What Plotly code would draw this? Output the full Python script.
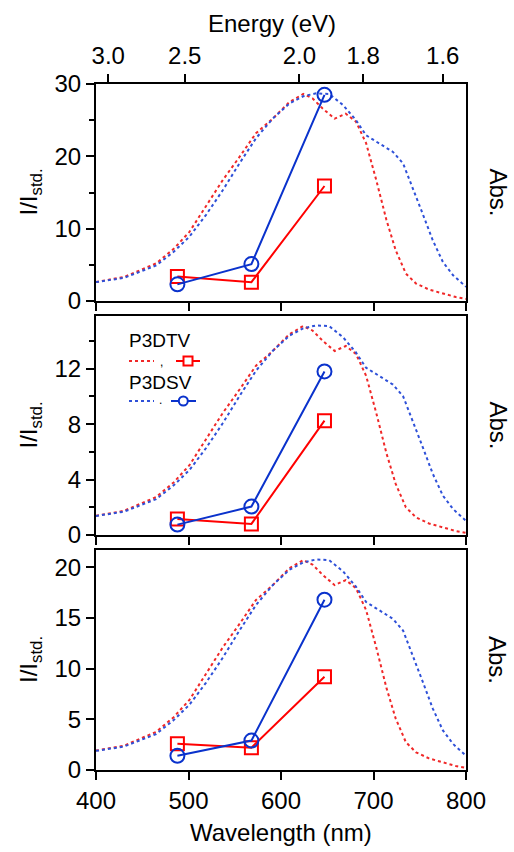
import plotly.graph_objects as go

# ---------------- data ----------------
laser_wl = [488, 568, 647]

p3dtv_top = [3.4, 2.6, 15.9]
p3dsv_top = [2.3, 5.1, 28.5]
p3dtv_mid = [1.15, 0.8, 8.25]
p3dsv_mid = [0.75, 2.05, 11.8]
p3dtv_bot = [2.6, 2.2, 9.2]
p3dsv_bot = [1.4, 2.9, 16.8]

red_wl = [400, 430, 465, 484, 501, 519, 537, 555, 573, 591, 609, 624, 634, 645,
          658, 670, 681, 692, 703, 714, 724, 735, 746, 760, 775, 789, 800]
red_abs = [0.092, 0.115, 0.181, 0.251, 0.333, 0.460, 0.582, 0.693, 0.808, 0.878,
           0.958, 0.997, 0.976, 0.927, 0.878, 0.902, 0.864, 0.760, 0.582, 0.390,
           0.244, 0.132, 0.084, 0.055, 0.035, 0.019, 0.010]

blue_wl = [400, 430, 465, 484, 501, 519, 537, 555, 573, 591, 609, 624, 638, 652,
           667, 681, 692, 706, 721, 732, 742, 753, 764, 775, 786, 800]
blue_abs = [0.091, 0.111, 0.171, 0.237, 0.310, 0.415, 0.533, 0.662, 0.784, 0.878,
            0.951, 0.986, 1.000, 0.997, 0.944, 0.871, 0.798, 0.760, 0.718, 0.662,
            0.551, 0.422, 0.293, 0.188, 0.124, 0.068]

wl_ticks = [400, 500, 600, 700, 800]
energy_ticks = [3.0, 2.5, 2.0, 1.8, 1.6]
energy_labels = ["3.0", "2.5", "2.0", "1.8", "1.6"]

panel_ranges = [[0, 30], [0, 15.8], [0, 21.7]]
panel_dtick = [10, 4, 5]
panel_minor = [5, 2, None]
abs_range = [0, 1.045]

RED = "#FF0000"
BLUE = "#0A32CC"
RED_SPEC = "#F02828"
BLUE_SPEC = "#2E50D8"
FONT = "Liberation Sans, Arial, sans-serif"

# ---------------- geometry ----------------
W, H = 514, 852
L, R, T, B = 96, 48, 84, 82


def py(p):
    return (H - B - p) / (H - T - B)


def px(p):
    return (p - L) / (W - L - R)


domains = [[py(301), 1.0], [py(535), py(316)], [0.0, py(550)]]

fig = go.Figure()

series = [(p3dtv_top, p3dsv_top), (p3dtv_mid, p3dsv_mid), (p3dtv_bot, p3dsv_bot)]
for i in range(3):
    xa = "x" if i == 0 else f"x{i + 1}"
    ya_base = "y" if i == 0 else f"y{i + 1}"
    ya_over = f"y{i + 4}"
    fig.add_trace(go.Scatter(x=red_wl, y=red_abs, xaxis=xa, yaxis=ya_base, mode="lines",
                             line=dict(color=RED_SPEC, width=2, dash="dot"), showlegend=False))
    fig.add_trace(go.Scatter(x=blue_wl, y=blue_abs, xaxis=xa, yaxis=ya_base, mode="lines",
                             line=dict(color=BLUE_SPEC, width=2, dash="dot"), showlegend=False))
    tv, sv = series[i]
    fig.add_trace(go.Scatter(x=laser_wl, y=tv, xaxis=xa, yaxis=ya_over, mode="lines+markers",
                             line=dict(color=RED, width=2),
                             marker=dict(symbol="square-open", size=13, color=RED,
                                         line=dict(width=2, color=RED)),
                             showlegend=False))
    fig.add_trace(go.Scatter(x=laser_wl, y=sv, xaxis=xa, yaxis=ya_over, mode="lines+markers",
                             line=dict(color=BLUE, width=2),
                             marker=dict(symbol="circle-open", size=14, color=BLUE,
                                         line=dict(width=2, color=BLUE)),
                             showlegend=False))

# dummy trace to activate the top energy axis
fig.add_trace(go.Scatter(x=[None], y=[None], xaxis="x4", yaxis="y", showlegend=False,
                         hoverinfo="skip"))

common = dict(showline=True, linewidth=2, linecolor="black", ticks="outside",
              tickwidth=2, tickcolor="black", ticklen=8, showgrid=False,
              zeroline=False, tickfont=dict(size=24, color="black", family=FONT))

layout = dict(
    width=W, height=H,
    margin=dict(l=L, r=R, t=T, b=B),
    paper_bgcolor="white", plot_bgcolor="white",
    font=dict(family=FONT, color="black", size=24),
    showlegend=False,
)

for i in range(3):
    xk = "xaxis" if i == 0 else f"xaxis{i + 1}"
    yk = "yaxis" if i == 0 else f"yaxis{i + 1}"
    yok = f"yaxis{i + 4}"
    xa = "x" if i == 0 else f"x{i + 1}"
    ya_base = "y" if i == 0 else f"y{i + 1}"
    layout[xk] = dict(common, domain=[0, 1], range=[400, 800], anchor=ya_base,
                      tickmode="array", tickvals=wl_ticks, mirror=True,
                      showticklabels=(i == 2))
    layout[yk] = dict(domain=domains[i], range=abs_range, anchor=xa, showline=True,
                      linewidth=2, linecolor="black", mirror=True, ticks="",
                      showticklabels=False, showgrid=False, zeroline=False)
    yo = dict(common, overlaying=ya_base, side="left", anchor=xa,
              range=panel_ranges[i], dtick=panel_dtick[i], tick0=0)
    if panel_minor[i]:
        yo["minor"] = dict(ticks="outside", ticklen=5, tickwidth=2, tickcolor="black",
                           dtick=panel_minor[i], tick0=0, showgrid=False)
    layout[yok] = yo

layout["xaxis4"] = dict(common, overlaying="x", side="top", anchor="y", range=[400, 800],
                        tickmode="array", tickvals=[1239.84 / e for e in energy_ticks],
                        ticktext=energy_labels)

annotations = []
for i in range(3):
    ymid = (domains[i][0] + domains[i][1]) / 2
    annotations.append(dict(text="I/I<sub>std.</sub>", x=px(30), y=ymid, xref="paper",
                            yref="paper", textangle=-90, showarrow=False,
                            font=dict(size=24, family=FONT, color="black"),
                            xanchor="center", yanchor="middle"))
    annotations.append(dict(text="Abs.", x=px(498), y=ymid, xref="paper", yref="paper",
                            textangle=90, showarrow=False,
                            font=dict(size=24, family=FONT, color="black"),
                            xanchor="center", yanchor="middle"))
annotations.append(dict(text="Energy (eV)", x=px(272), y=py(24), xref="paper", yref="paper",
                        showarrow=False, font=dict(size=24, family=FONT, color="black"),
                        xanchor="center", yanchor="middle"))
annotations.append(dict(text="Wavelength (nm)", x=px(281), y=py(832), xref="paper",
                        yref="paper", showarrow=False,
                        font=dict(size=24, family=FONT, color="black"),
                        xanchor="center", yanchor="middle"))

# legend (Igor-style) inside middle panel
leg_font = dict(size=19, family=FONT, color="black")
punct_font = dict(size=12, family=FONT, color="black")
annotations += [
    dict(text="P3DTV", x=px(127), y=py(340), xref="paper", yref="paper", showarrow=False,
         xanchor="left", yanchor="middle", font=leg_font),
    dict(text=",", x=px(161), y=py(362), xref="paper", yref="paper", showarrow=False,
         xanchor="center", yanchor="middle", font=punct_font),
    dict(text="P3DSV", x=px(127), y=py(382), xref="paper", yref="paper", showarrow=False,
         xanchor="left", yanchor="middle", font=leg_font),
    dict(text=".", x=px(160), y=py(400), xref="paper", yref="paper", showarrow=False,
         xanchor="center", yanchor="middle", font=punct_font),
]
layout["annotations"] = annotations

shapes = [
    dict(type="line", xref="paper", yref="paper", x0=px(129), x1=px(154), y0=py(361),
         y1=py(361), line=dict(color=RED_SPEC, width=2, dash="dot")),
    dict(type="line", xref="paper", yref="paper", x0=px(176), x1=px(200), y0=py(361),
         y1=py(361), line=dict(color=RED, width=2)),
    dict(type="rect", xref="paper", yref="paper", x0=px(183.5), x1=px(192.5),
         y0=py(365.5), y1=py(356.5), line=dict(color=RED, width=2), fillcolor="white"),
    dict(type="line", xref="paper", yref="paper", x0=px(129), x1=px(154), y0=py(401),
         y1=py(401), line=dict(color=BLUE_SPEC, width=2, dash="dot")),
    dict(type="line", xref="paper", yref="paper", x0=px(171), x1=px(196), y0=py(401),
         y1=py(401), line=dict(color=BLUE, width=2)),
    dict(type="circle", xref="paper", yref="paper", x0=px(178.8), x1=px(187.8),
         y0=py(405.5), y1=py(396.5), line=dict(color=BLUE, width=2), fillcolor="white"),
]
layout["shapes"] = shapes

fig.update_layout(**layout)
fig.write_html("out.html")
